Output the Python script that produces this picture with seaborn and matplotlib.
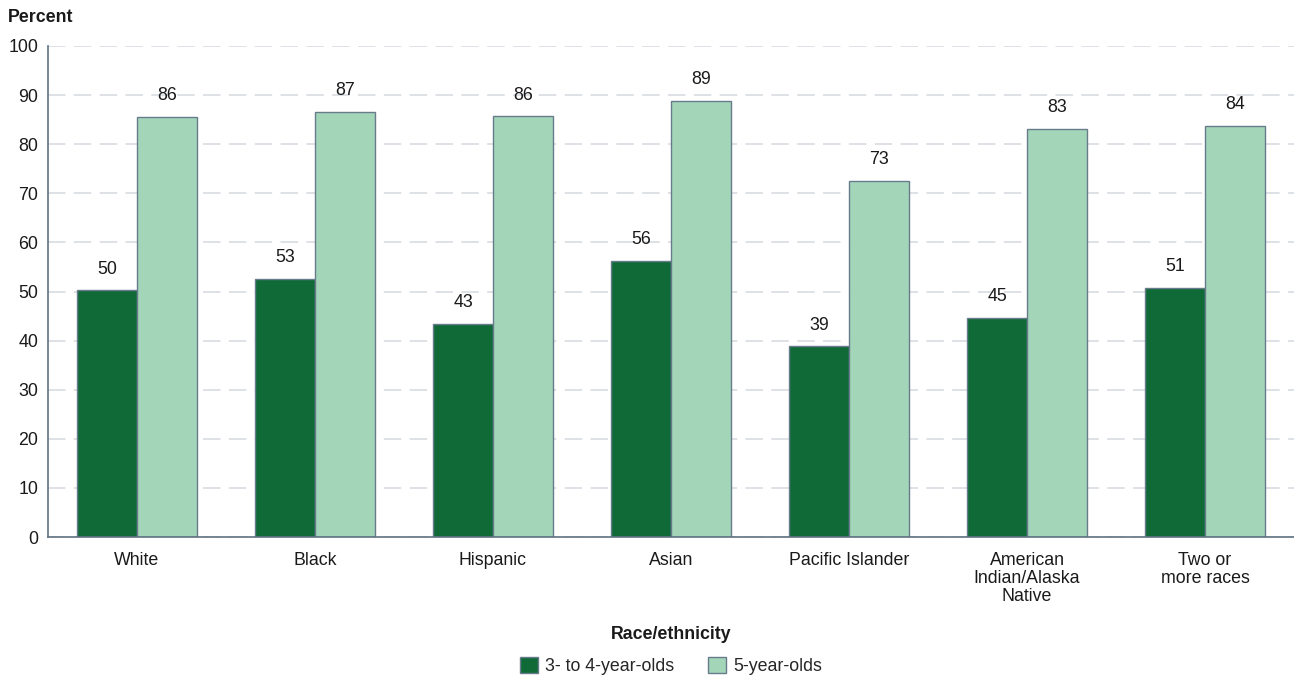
import matplotlib
matplotlib.use("Agg")
import matplotlib.pyplot as plt
import seaborn as sns
import pandas as pd
from matplotlib.patches import Patch

# Enrollment rates by race/ethnicity and age group
categories = ["White", "Black", "Hispanic", "Asian", "Pacific Islander",
              "American\nIndian/Alaska\nNative", "Two or\nmore races"]
age_groups = ["3- to 4-year-olds", "5-year-olds"]
pct_3_4 = [50.3, 52.6, 43.4, 56.3, 38.8, 44.7, 50.8]
pct_5 = [85.6, 86.6, 85.7, 88.9, 72.6, 83.1, 83.8]
y_ticks = [0, 10, 20, 30, 40, 50, 60, 70, 80, 90, 100]

colors = {"3- to 4-year-olds": "#0f6a37", "5-year-olds": "#a3d6b8"}
edge = "#677b8c"
FS = 12.8

df = pd.DataFrame({
    "category": categories * 2,
    "age": [age_groups[0]] * len(categories) + [age_groups[1]] * len(categories),
    "pct": pct_3_4 + pct_5,
})

sns.set_theme(style="white")
plt.rcParams["font.family"] = ["Liberation Sans", "DejaVu Sans"]

fig = plt.figure(figsize=(12.94, 6.79), dpi=100)
ax = fig.add_axes([48 / 1294, 142 / 679, 1 - 48 / 1294, 491 / 679])

sns.barplot(data=df, x="category", y="pct", hue="age", order=categories,
            hue_order=age_groups, palette=colors, width=0.67, gap=0,
            edgecolor=edge, linewidth=1.0, saturation=1, legend=False, ax=ax,
            errorbar=None, zorder=3)

for cont in ax.containers:
    ax.bar_label(cont, fmt="%.0f", padding=9, fontsize=FS, color="#1a1a1a")

ax.set_xlim(-0.5, len(categories) - 0.5)
ax.set_ylim(0, 100)
ax.set_yticks(y_ticks)
ax.yaxis.grid(True, color="#d8dde2", linewidth=1.2, linestyle=(0, (10.5, 5)), zorder=0)
ax.xaxis.grid(False)
ax.set_axisbelow(True)

for side in ["top", "right"]:
    ax.spines[side].set_visible(False)
for side in ["left", "bottom"]:
    ax.spines[side].set_color("#5f7282")
    ax.spines[side].set_linewidth(1.2)
    ax.spines[side].set_zorder(4)

ax.tick_params(axis="y", length=0, pad=7, labelsize=FS, labelcolor="#1a1a1a")
ax.tick_params(axis="x", length=0, pad=10.5, labelsize=FS, labelcolor="#1a1a1a")
for lbl in ax.get_xticklabels():
    lbl.set_linespacing(1.08)

ax.set_ylabel("")
ax.set_xlabel("Race/ethnicity", fontsize=FS, fontweight="bold", color="#1a1a1a")
ax.xaxis.set_label_coords(0.5, -0.181)

fig.text(8 / 1294, 1 - 17 / 679, "Percent", fontsize=FS, fontweight="bold",
         color="#1a1a1a", ha="left", va="center")

handles = [Patch(facecolor=colors[g], edgecolor=edge, linewidth=1.0) for g in age_groups]
fig.legend(handles, age_groups, loc="center", bbox_to_anchor=(671 / 1294, 1 - 666 / 679),
           ncol=2, frameon=False, fontsize=FS, handlelength=1.0, handleheight=1.0,
           handletextpad=0.4, columnspacing=1.9)

fig.savefig("out.png", dpi=100)
